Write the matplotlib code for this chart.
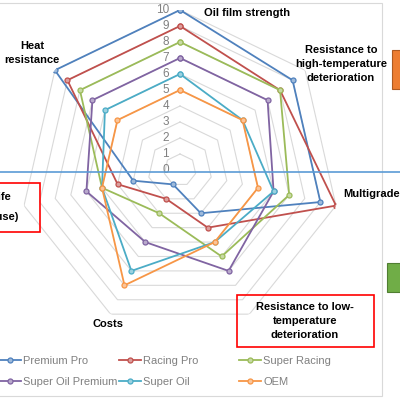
import numpy as np
import matplotlib
matplotlib.use("Agg")
import matplotlib.pyplot as plt
from matplotlib.lines import Line2D
from matplotlib.patches import Rectangle

# Axes of the radar, clockwise from the top
categories = [
    "Oil film strength",
    "Resistance to\nhigh-temperature\ndeterioration",
    "Multigrade",
    "Resistance to low-\ntemperature\ndeterioration",
    "Costs",
    "Service life\n(frequent use)",
    "Heat\nresistance",
]
series_names = ["Premium Pro", "Racing Pro", "Super Racing",
                "Super Oil Premium", "Super Oil", "OEM"]
premium_pro = [10, 9, 9, 3, 1, 3, 10]
racing_pro = [9, 8, 10, 4, 2, 4, 9]
super_racing = [8, 8, 7, 6, 3, 5, 8]
super_oil_premium = [7, 7, 6, 7, 5, 6, 7]
super_oil = [6, 5, 6, 5, 7, 5, 6]
oem = [5, 5, 5, 5, 8, 5, 5]
scale_ticks = list(range(0, 11))

series = [premium_pro, racing_pro, super_racing, super_oil_premium, super_oil, oem]
colors = ["#4F81BD", "#C0504D", "#9BBB59", "#8064A2", "#4BACC6", "#F79646"]

W = H = 400.0


def px(x, y):
    # pixel position (top-left origin) -> figure fraction
    return x / W, 1 - y / H


def light(c, f=0.45):
    rgb = np.array(matplotlib.colors.to_rgb(c))
    return tuple(rgb + (1 - rgb) * f)


def main():
    plt.rcParams["font.family"] = ["Liberation Sans", "DejaVu Sans"]
    fig = plt.figure(figsize=(4, 4), dpi=100)

    # chart frame
    fig.add_artist(Rectangle(px(-10, 396), 392 / W, 393 / H, fill=False,
                             edgecolor="#D9D9D9", lw=0.8, transform=fig.transFigure))

    cx, cy, rad = 180, 170, 160
    ax = fig.add_axes([(cx - rad) / W, (H - cy - rad) / H, 2 * rad / W, 2 * rad / H],
                      projection="polar")
    ax.set_theta_zero_location("N")
    ax.set_theta_direction(-1)
    ax.set_ylim(0, 10)
    ax.grid(False)
    ax.set_xticks([])
    ax.set_yticks([])
    ax.spines["polar"].set_visible(False)
    ax.patch.set_alpha(0)

    n = len(categories)
    angles = np.linspace(0, 2 * np.pi, n, endpoint=False)
    closed = np.append(angles, angles[0])

    # heptagon grid
    for r in scale_ticks[1:]:
        ax.plot(closed, [r] * (n + 1), color="#D9D9D9", lw=0.8, zorder=1)

    for v in scale_ticks:
        ax.annotate(str(v), (0, v), xytext=(-11, 0), textcoords="offset pixels",
                    ha="right", va="center", fontsize=8.5, color="#808080")

    handles = []
    for name, vals, c in zip(series_names, series, colors):
        h, = ax.plot(closed, vals + vals[:1], color=c, lw=1.3, marker="o",
                     markersize=3.6, markerfacecolor=light(c), markeredgecolor=c,
                     markeredgewidth=0.9, label=name, zorder=3)
        handles.append(h)

    # category labels
    lab = dict(fontsize=8, fontweight="bold", color="black", linespacing=1.45,
               ha="center", va="center", multialignment="center")
    spots = [(247, 13), (341, 64), (372, 194), (305, 321), (108, 324), (-19, 207), (32, 53)]
    for i, (text, (x, y)) in enumerate(zip(categories, spots)):
        kw = dict(lab)
        if i == 5:
            kw["linespacing"] = 2.3
        fig.text(*px(x, y), text, **kw)

    # blue horizontal line
    fig.add_artist(Line2D([0, 1], [1 - 171.5 / H] * 2, color="#5B9BD5", lw=1.2,
                          transform=fig.transFigure))

    # red boxes
    fig.add_artist(Rectangle(px(-10, 232), 50 / W, 49 / H, fill=False,
                             edgecolor="#FF0000", lw=1.2, transform=fig.transFigure))
    fig.add_artist(Rectangle(px(237, 347), 137 / W, 52 / H, fill=False,
                             edgecolor="#FF0000", lw=1.2, transform=fig.transFigure))

    # coloured blocks at right edge
    fig.add_artist(Rectangle(px(392, 89), 20 / W, 39 / H, facecolor="#ED7D31",
                             edgecolor="#AE5A21", lw=0.8, transform=fig.transFigure))
    fig.add_artist(Rectangle(px(387, 292), 20 / W, 29 / H, facecolor="#70AD47",
                             edgecolor="#507E32", lw=0.8, transform=fig.transFigure))

    # legend: three columns of equal width
    for col in range(3):
        hs = [handles[col], handles[col + 3]]
        fig.legend(hs, [h.get_label() for h in hs], loc="upper left",
                   bbox_to_anchor=px(-1 + 120 * col, 356), frameon=False,
                   fontsize=8, labelcolor="#808080", handlelength=2.0,
                   handletextpad=0.2, labelspacing=1.0, borderaxespad=0,
                   borderpad=0)

    fig.savefig("out.png", dpi=100)
    plt.close(fig)


if __name__ == "__main__":
    main()
